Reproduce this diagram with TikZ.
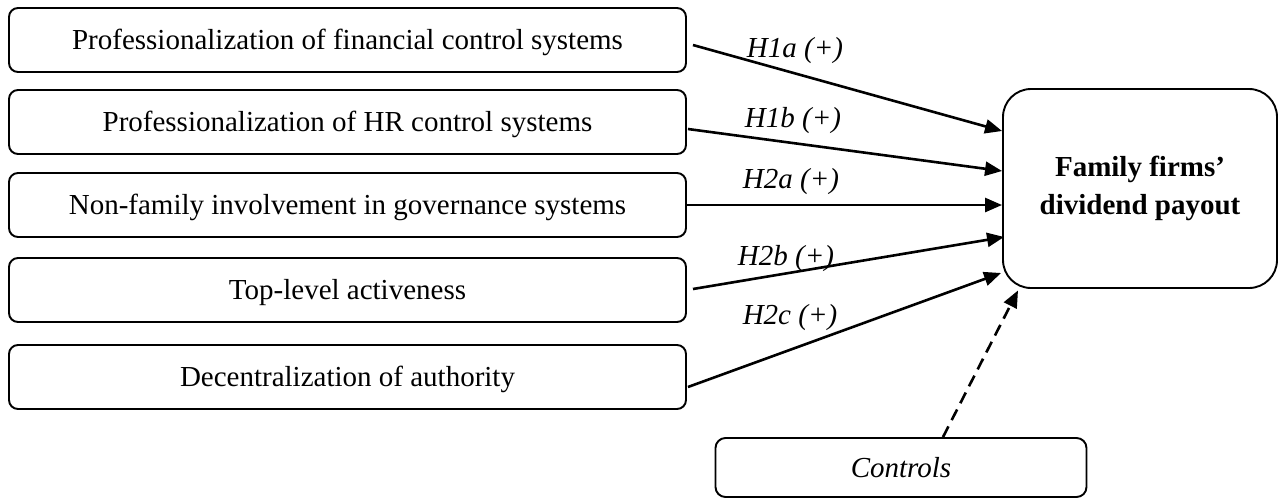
\documentclass[tikz,border=0pt]{standalone}
\usepackage{fontspec}
\setmainfont{Liberation Serif}
\usetikzlibrary{arrows.meta}
\tikzset{
  lbox/.style={draw, line width=1.9pt, rounded corners=9pt, minimum width=677pt, minimum height=64pt, inner sep=0pt, text height=22pt, text depth=4pt, font=\fontsize{29}{38}\selectfont},
  bigbox/.style={draw, line width=1.9pt, rounded corners=28pt, minimum width=274pt, minimum height=199pt, inner sep=0pt, align=center, font=\fontsize{29}{38}\selectfont\bfseries},
  ctrlbox/.style={draw, line width=1.9pt, rounded corners=10pt, minimum width=371pt, minimum height=59pt, inner sep=0pt, text height=23pt, text depth=3pt, font=\fontsize{29}{38}\selectfont\itshape},
  hlab/.style={anchor=base, inner sep=0pt, font=\fontsize{29}{38}\selectfont\itshape},
  arr/.style={line width=2.6pt, -{Triangle[length=17pt,width=14pt]}},
  darr/.style={arr, dash pattern=on 12pt off 7pt}
}
\begin{document}
\begin{tikzpicture}[x=1pt,y=-1pt]
\useasboundingbox (0,0) rectangle (1279,499);
\node[lbox] (b1) at (347.5,40) {Professionalization of financial control systems};
\node[lbox] (b2) at (347.5,122) {Professionalization of HR control systems};
\node[lbox] (b3) at (347.5,205) {Non-family involvement in governance systems};
\node[lbox] (b4) at (347.5,290) {Top-level activeness};
\node[lbox] (b5) at (347.5,377) {Decentralization of authority};
\node[bigbox] (big) at (1140,188.5) {Family firms’\\dividend payout};
\node[ctrlbox] (ctrl) at (901,467.5) {Controls};
\draw[arr] ([xshift=6pt,yshift=-5pt]b1.east) -- ([yshift=57.5pt]big.west);
\draw[arr] ([xshift=1pt,yshift=-7pt]b2.east) -- ([yshift=17.5pt]big.west);
\draw[arr] (b3.east) -- ([yshift=-16.5pt]big.west);
\draw[arr] ([xshift=6pt,yshift=1pt]b4.east) -- ([xshift=2pt,yshift=-48.5pt]big.west);
\draw[arr] ([xshift=1pt,yshift=-10pt]b5.east) -- ([xshift=-1pt,yshift=-84.5pt]big.west);
\draw[darr] ([xshift=42pt]ctrl.north) -- ([xshift=-122pt,yshift=-1.5pt]big.south);
\node[hlab] (l1) at (795,57) {H1a (+)};
\node[hlab] (l2) at (793,127) {H1b (+)};
\node[hlab] (l3) at (791,188) {H2a (+)};
\node[hlab] (l4) at (786,265) {H2b (+)};
\node[hlab] (l5) at (790,324) {H2c (+)};
\end{tikzpicture}
\end{document}
